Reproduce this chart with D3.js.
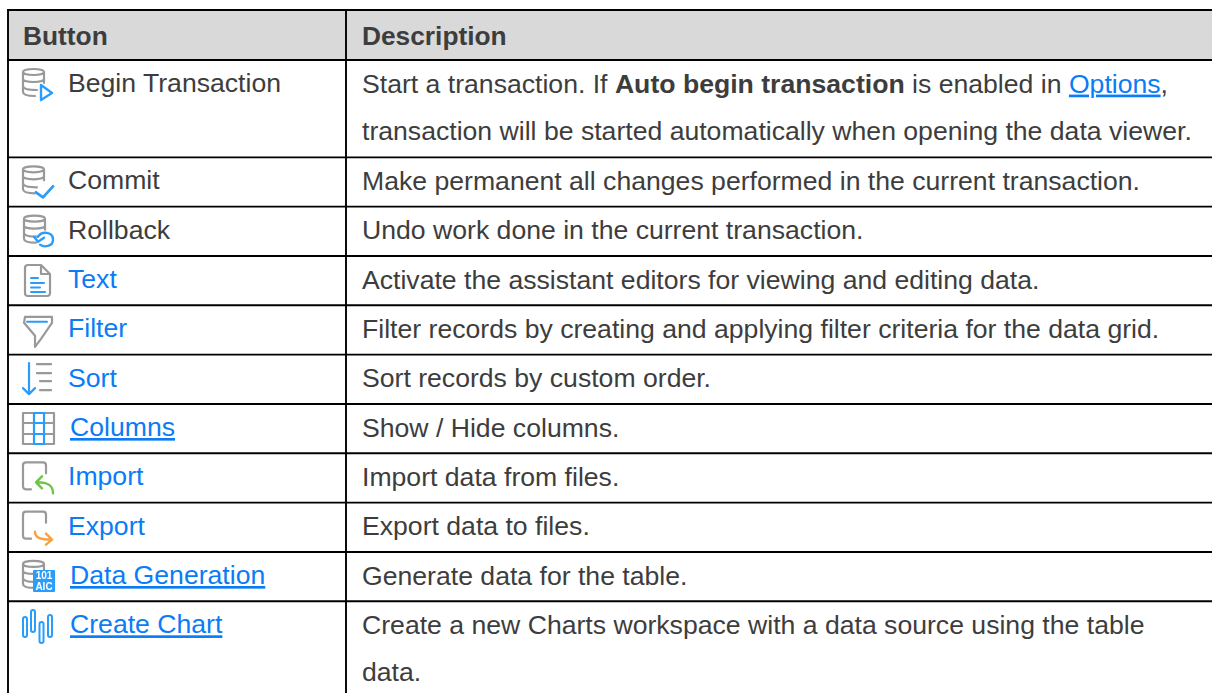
<!DOCTYPE html>
<html>
<head>
<meta charset="utf-8">
<script src="https://cdn.jsdelivr.net/npm/d3@7"></script>
<style>
html, body { margin: 0; padding: 0; background: #fff; overflow: hidden; }
svg { display: block; }
text { font-family: "Liberation Sans", Arial, sans-serif; font-size: 26.62px; fill: #3d3d3d; }
text.head { font-weight: bold; font-size: 26.3px; }
.link { fill: #0a7cf5; }
.under { text-decoration: underline; }
.bold { font-weight: bold; }
text.tiny { font-size: 10px; font-weight: bold; fill: #fff; text-anchor: middle; }
</style>
</head>
<body>
<div id="chart"></div>
<script>
// Table contents
var headers = ["Button", "Description"];
var buttons = ["Begin Transaction", "Commit", "Rollback", "Text", "Filter", "Sort", "Columns", "Import", "Export", "Data Generation", "Create Chart"];
var icons = ["begin", "commit", "rollback", "text", "filter", "sort", "columns", "import", "export", "datagen", "chart"];
// n = plain button, u = button with an underlined link, l = blue button without underline
var buttonStyles = ["n", "n", "n", "l", "l", "l", "u", "l", "l", "u", "u"];
// every description is a list of lines, every line a list of [text, style]
var descriptions = [
    [[["Start a transaction. If ", ""], ["Auto begin transaction", "bold"], [" is enabled in ", ""], ["Options", "link under"], [",", ""]],
     [["transaction will be started automatically when opening the data viewer.", ""]]],
    [[["Make permanent all changes performed in the current transaction.", ""]]],
    [[["Undo work done in the current transaction.", ""]]],
    [[["Activate the assistant editors for viewing and editing data.", ""]]],
    [[["Filter records by creating and applying filter criteria for the data grid.", ""]]],
    [[["Sort records by custom order.", ""]]],
    [[["Show / Hide columns.", ""]]],
    [[["Import data from files.", ""]]],
    [[["Export data to files.", ""]]],
    [[["Generate data for the table.", ""]]],
    [[["Create a new Charts workspace with a data source using the table", ""]],
     [["data.", ""]]]
];

var width = 1212, height = 693;
var tableTop = 10, headerBottom = 60, col0 = 8, col1 = 346;
var lineStep = 48, rowPad = 1.33, textStep = 47;
var gray = "#999", blue = "#2a9dfb", green = "#6cc644", orange = "#f9a23c";

// Icons, drawn in a 32x34 box
function path(g, d, color, w) {
    var p = g.append("path").attr("d", d).attr("stroke", color);
    if (w) p.attr("stroke-width", w);
    return p;
}
function db(g) {
    path(g, "M1,4 C1,0 22,0 22,4 V15 M1,4 V24 C1,27 6,28 13,28 M1,4 C1,8 22,8 22,4 M1,11 C1,15 22,15 22,11 M1,18 C1,21 8,22 15,22", gray, 2.2);
}
function page(g) {
    path(g, "M24,12 V4 C24,2 23,1 21,1 H4 C2,1 1,2 1,4 V25 C1,27 2,28 4,28 H9", gray, 2.2);
}
var drawIcon = {
    begin: function (g) {
        db(g);
        path(g, "M19,17 L30,25 L19,32 Z", blue, 2.4);
    },
    commit: function (g) {
        db(g);
        path(g, "M14,27 L21,32 L31,21", blue, 2.8);
    },
    rollback: function (g) {
        g.attr("transform", "translate(23,8)");
        db(g);
        path(g, "M15,22 C19,16 30,17 30,25 C30,32 21,33 17,30 M11,22 L15,27 L21,23", blue, 2.4);
    },
    text: function (g) {
        g.attr("transform", "translate(24,8)");
        path(g, "M17,1 H4 C2,1 1,2 1,4 V29 C1,31 2,32 4,32 H23 C25,32 26,31 26,29 V10 Z M17,1 V10 H26", gray, 2.2);
        path(g, "M7,14 H14 M7,19 H20 M7,23.5 H16 M7,28 H21", blue, 2);
    },
    filter: function (g) {
        g.attr("transform", "translate(23,10.5)");
        path(g, "M2,1 H29 V7 L18,23 L12,31 V20 L1,7 Z", gray, 2.2);
        path(g, "M4,6 H24", blue, 2);
    },
    sort: function (g) {
        g.attr("transform", "translate(22,8.5)");
        path(g, "M7,0 V31 M1,25 L7,31 L13,25", blue, 2.2);
        path(g, "M15,1 H29 M15,10 H29 M18,18 H29 M18,27 H29", gray, 2.2);
    },
    columns: function (g) {
        g.attr("transform", "translate(22,8)");
        path(g, "M1,1 H32 V32 H1 Z M1,11 H32 M1,22 H32", gray, 2.2);
        path(g, "M12,1 V32 M22,1 V32 M12,1 H22 M12,11 H22 M12,22 H22 M12,32 H22", blue, 2.2);
    },
    "import": function (g) {
        page(g);
        path(g, "M31,32 C31,24 26,21 15,21 M20,15 L14,21 L20,27", green, 2.4);
    },
    "export": function (g) {
        page(g);
        path(g, "M13,21 C13,27 18,29 30,29 M24,23 L30,29 L24,34", orange, 2.4);
    },
    datagen: function (g) {
        db(g);
        g.append("rect").attr("x", 11).attr("y", 10).attr("width", 22).attr("height", 22).attr("rx", 1).attr("fill", blue);
        g.append("text").attr("class", "tiny").attr("x", 22).attr("y", 19).text("101");
        g.append("text").attr("class", "tiny").attr("x", 22).attr("y", 30).text("AIC");
    },
    chart: function (g) {
        g.attr("transform", "translate(22,8.7)");
        var c = [[0, 7, 27], [8, 0, 22], [16.5, 12, 33], [25, 5, 27]];
        c.forEach(function (b) {
            g.append("rect").attr("x", b[0] + 1).attr("y", b[1]).attr("width", 4).attr("height", b[2] - b[1])
                .attr("rx", 2).attr("stroke", blue).attr("stroke-width", 2);
        });
    }
};

var svg = d3.select("#chart").append("svg")
    .attr("width", width)
    .attr("height", height);

// The icons in the source are soft, scaled-up bitmaps
svg.append("filter").attr("id", "soft")
    .append("feGaussianBlur").attr("stdDeviation", 0.45);

// Row positions come from how many text lines each row holds
var rowTops = [];
var cum = headerBottom;
descriptions.forEach(function (d) {
    rowTops.push(cum);
    cum += d.length * lineStep + rowPad;
});
var tableBottom = cum;

// Header band
svg.append("rect")
    .attr("x", col0).attr("y", tableTop)
    .attr("width", width - col0).attr("height", headerBottom - tableTop)
    .attr("fill", "#d9d9d9");

svg.append("text").attr("class", "head").attr("x", 23).attr("y", 45).text(headers[0]);
svg.append("text").attr("class", "head").attr("x", 362).attr("y", 45).text(headers[1]);

// Rows
var rows = svg.selectAll(".row")
    .data(buttons)
    .enter()
    .append("g")
    .attr("class", "row")
    .attr("transform", function (d, i) { return "translate(0," + rowTops[i] + ")"; });

rows.append("text")
    .attr("x", function (d, i) { return buttonStyles[i] === "u" ? 70 : 68; })
    .attr("y", 32)
    .attr("class", function (d, i) {
        var s = buttonStyles[i];
        return s === "u" ? "link under" : (s === "l" ? "link" : "");
    })
    .text(function (d) { return d; });

rows.each(function (d, i) {
    var g = d3.select(this);
    descriptions[i].forEach(function (line, li) {
        var t = g.append("text")
            .attr("x", 362)
            .attr("y", 32.6 + li * textStep);
        line.forEach(function (seg) {
            t.append("tspan").attr("class", seg[1]).text(seg[0]);
        });
    });
    var ic = g.append("g")
        .attr("transform", "translate(22,8)")
        .attr("fill", "none")
        .attr("filter", "url(#soft)")
        .attr("stroke-linecap", "round")
        .attr("stroke-linejoin", "round");
    drawIcon[icons[i]](ic);
});

// Grid lines
var rules = [tableTop, headerBottom].concat(rowTops.slice(1));
svg.selectAll(".hrule")
    .data(rules)
    .enter()
    .append("line")
    .attr("class", "hrule")
    .attr("x1", col0 - 1).attr("x2", width)
    .attr("y1", function (d) { return d; })
    .attr("y2", function (d) { return d; })
    .attr("stroke", "#000").attr("stroke-width", 1.9);

svg.selectAll(".vrule")
    .data([col0, col1])
    .enter()
    .append("line")
    .attr("class", "vrule")
    .attr("x1", function (d) { return d; })
    .attr("x2", function (d) { return d; })
    .attr("y1", tableTop)
    .attr("y2", Math.min(tableBottom, height))
    .attr("stroke", "#000").attr("stroke-width", 1.9);
</script>
</body>
</html>
